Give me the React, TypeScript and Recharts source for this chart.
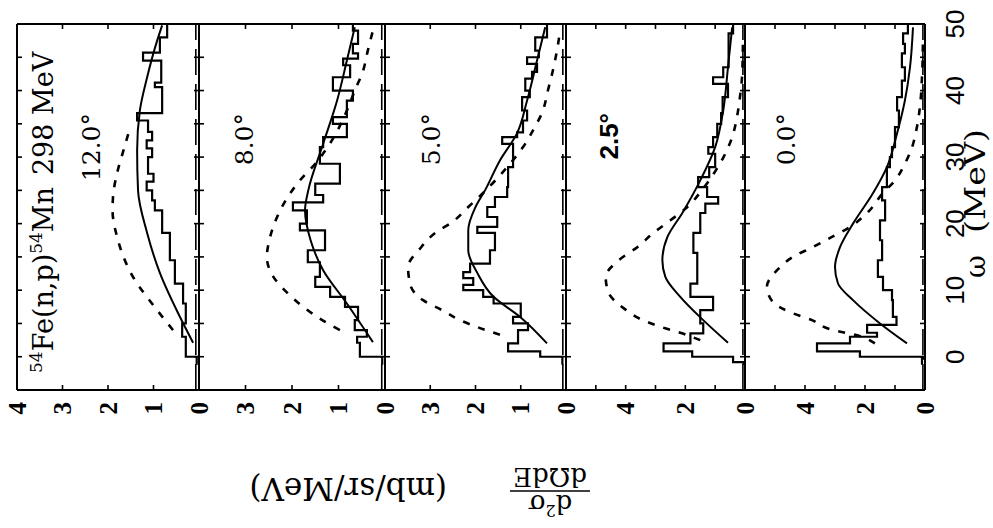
import React from 'react';
import { LineChart, Line, XAxis, YAxis, ReferenceLine } from 'recharts';

// omega axis (MeV)
const OMEGA_TICKS = [0, 5, 10, 15, 20, 25, 30, 35, 40, 45, 50];

// 12.0 deg
const H12_W = [-1.2, 0, 3, 5, 8, 11, 14.5, 18.6, 22, 23.5, 25, 26.3, 27.5, 30, 31.3, 32.5, 33.8, 35.5, 36.6, 40.5, 41.2, 44.5, 45.7, 48, 50];
const H12_V = [0.05, 0.29, 0.37, 0.29, 0.35, 0.53, 0.64, 0.81, 0.97, 1.03, 1.15, 1.0, 1.12, 1.03, 1.15, 1.03, 1.12, 1.36, 0.81, 0.97, 0.83, 1.23, 0.86, 0.7, 0.7];
const S12_W = [2.1, 6, 12.6, 18.6, 25, 31, 37, 42, 47.5, 49.8];
const S12_V = [0.13, 0.42, 0.86, 1.14, 1.34, 1.36, 1.3, 1.14, 0.92, 0.81];
const D12_W = [4, 7, 12, 18, 22, 24, 27.6, 31, 33.6];
const D12_V = [0.57, 0.92, 1.45, 1.8, 1.9, 1.89, 1.8, 1.66, 1.55];

// 8.0 deg
const H8_W = [-1.2, 0, 2.1, 3, 4, 5.5, 7.5, 9, 10.5, 12, 14.2, 16, 19, 20, 22, 23.2, 24.3, 26, 29, 31.5, 33, 35, 36, 38.5, 40, 42, 43.8, 44.8, 45.6, 47, 49, 50];
const H8_V = [0.06, 0.54, 0.6, 0.39, 0.65, 0.58, 0.86, 1.18, 1.5, 1.4, 1.66, 1.29, 1.83, 1.68, 1.98, 1.33, 1.5, 0.97, 1.4, 1.33, 0.82, 1.12, 0.82, 0.69, 1.12, 0.75, 0.9, 0.58, 0.69, 0.58, 0.69, 0.69];
const S8_W = [2.2, 8, 13, 17.5, 22, 25, 32, 38.5, 44.5, 49.5];
const S8_V = [0.26, 0.82, 1.33, 1.6, 1.72, 1.65, 1.33, 1.03, 0.82, 0.65];
const D8_W = [4, 5.5, 7.5, 9.6, 12, 15, 18, 21, 24, 26.5, 29, 33, 36.5, 40, 43, 46, 49];
const D8_V = [0.97, 1.35, 1.76, 2.1, 2.4, 2.54, 2.47, 2.32, 2.09, 1.83, 1.5, 1.1, 0.85, 0.65, 0.47, 0.37, 0.26];

// 5.0 deg
const H5_W = [-1.2, 0, 0.8, 2, 4, 5, 6, 8, 9, 10, 10.8, 11.8, 12.7, 14, 16, 18.6, 19.5, 21, 22.5, 24, 25.5, 28.5, 32, 33, 33.7, 35.5, 37, 39, 40, 41.8, 42.8, 44, 45, 46, 48, 50];
const H5_V = [0.08, 0.57, 1.28, 1.06, 0.84, 1.17, 1.0, 1.6, 1.83, 2.27, 2.05, 2.27, 2.12, 1.68, 1.57, 1.96, 1.52, 1.74, 1.57, 1.3, 1.28, 1.17, 1.41, 1.08, 0.95, 0.86, 0.97, 0.8, 0.9, 0.75, 0.64, 0.86, 0.6, 0.68, 0.42, 0.42];
const S5_W = [2, 6, 9, 12.6, 16, 19, 22.5, 25, 29.5, 33.6, 38.5, 44.5, 49.5];
const S5_V = [0.42, 1.02, 1.6, 1.96, 2.16, 2.16, 2.0, 1.79, 1.46, 1.08, 0.86, 0.64, 0.46];
const D5_W = [3.3, 4.3, 5.5, 7, 8.5, 10.8, 13.5, 16.3, 18.6, 20.2, 22.5, 25.5, 28.5, 31.5, 34, 37, 40, 43, 46, 49];
const D5_V = [1.46, 1.9, 2.34, 2.74, 3.16, 3.44, 3.49, 3.22, 2.89, 2.52, 2.16, 1.7, 1.3, 0.95, 0.73, 0.51, 0.4, 0.29, 0.2, 0.13];

// 2.5 deg
const H25_W = [-1.2, -0.8, 0, 0.8, 2, 3.5, 5, 7, 9, 11, 15.6, 18.6, 21.6, 23, 24, 25.5, 27, 28.5, 30.5, 31.5, 33, 35, 36.6, 39, 41, 42, 43.5, 48.6, 50];
const H25_V = [0.05, 0.4, 1.77, 2.73, 1.83, 1.4, 1.5, 1.07, 1.83, 1.6, 1.73, 1.5, 1.33, 0.9, 1.27, 1.57, 1.2, 1.0, 1.23, 1.07, 0.93, 0.8, 0.75, 0.57, 1.07, 0.73, 0.55, 0.4, 0.4];
const S25_W = [2.1, 5.5, 9, 12, 14.5, 18, 21.6, 26.5, 31.5, 37, 43.5, 49.5];
const S25_V = [0.57, 1.4, 2.17, 2.67, 2.77, 2.6, 2.1, 1.5, 1.0, 0.73, 0.57, 0.43];
const D25_W = [2.5, 3.6, 4.5, 5.5, 7.3, 9.6, 12, 14.5, 16.5, 18.6, 20.5, 22.5, 25, 27.5, 30, 33, 36, 39, 42, 47];
const D25_V = [1.5, 2.17, 2.83, 3.43, 4.07, 4.57, 4.67, 4.23, 3.6, 3.07, 2.5, 1.93, 1.45, 1.05, 0.72, 0.43, 0.27, 0.17, 0.1, 0.07];

// 0.0 deg
const H0_W = [-1.2, -0.3, 0, 0.8, 2, 3, 3.6, 4.8, 6, 8.5, 10, 12, 14.5, 17.5, 20.5, 23.5, 25.5, 28.5, 30, 31.5, 34.5, 37, 39, 41.5, 43.5, 45.6, 47, 48.6, 50];
const H0_V = [0.1, 0, 2.17, 3.6, 2.5, 1.6, 1.93, 0.95, 1.07, 1.1, 1.4, 1.57, 1.43, 1.5, 1.33, 1.43, 1.27, 1.17, 1.1, 1.0, 0.87, 0.93, 0.77, 0.67, 0.77, 0.67, 0.73, 0.57, 0.57];
const S0_W = [2, 5, 8.5, 11, 13.5, 16.5, 20, 24.6, 28.5, 33.6, 38.5, 43.5, 49.5];
const S0_V = [0.6, 1.5, 2.4, 2.9, 3.0, 2.83, 2.4, 1.73, 1.27, 0.93, 0.67, 0.5, 0.4];
const D0_W = [2, 3.3, 4, 5.5, 6.7, 8.2, 10.5, 13, 15, 16.5, 18, 19.5, 21.6, 24.6, 26.5, 29, 31.5, 34.5, 37.5, 42, 47];
const D0_V = [1.67, 2.33, 3.07, 3.77, 4.5, 5.07, 5.27, 4.93, 4.4, 3.73, 3.1, 2.5, 1.93, 1.4, 1.0, 0.67, 0.43, 0.27, 0.17, 0.1, 0.07];

const ZERO_LEVEL = 0.07;
const OMEGA_MIN = -5;
const OMEGA_MAX = 50;

// figure is drawn upright (528 x 993) and turned a quarter turn
const W = 528;
const H = 993;
const PAD = 14; // room so boundary tick labels are not clipped
const TL = 5;   // tick length, ticks point into the frame

const pairs = (w: number[], v: number[]) => w.map((x, i) => ({ w: x, v: v[i] }));

// ticks drawn by hand at the positions the axis hands over (tickSize/tickMargin 0)
const leftTick = (evenOnly: boolean) => (t: any) => {
  const v = t.payload.value;
  const lab = evenOnly && v % 2 !== 0 ? '' : String(v);
  return (
    <g>
      <line x1={t.x} y1={t.y} x2={t.x + TL} y2={t.y} stroke="#000" strokeWidth={1.6} />
      <text x={t.x - 12} y={t.y} dy="0.34em" textAnchor="end" fontSize={25} fontFamily="Liberation Serif" fontWeight="bold" fill="#000">{lab}</text>
    </g>
  );
};
const rightTick = (t: any) => <line x1={t.x} y1={t.y} x2={t.x - TL} y2={t.y} stroke="#000" strokeWidth={1.6} />;
const topTick = (t: any) => <line x1={t.x} y1={t.y} x2={t.x} y2={t.y + TL} stroke="#000" strokeWidth={1.6} />;
const bottomTick = (showLab: boolean) => (t: any) => {
  const v = t.payload.value;
  return (
    <g>
      <line x1={t.x} y1={t.y} x2={t.x} y2={t.y - TL} stroke="#000" strokeWidth={1.6} />
      {showLab && v % 10 === 0 ? (
        <text x={t.x} y={t.y + 39} textAnchor="middle" fontSize={26} fontFamily="Liberation Sans" fill="#000">{v}</text>
      ) : null}
    </g>
  );
};

type PanelProps = {
  top: number; height: number; extra: number; yMax: number; yTicks: number[]; evenOnly?: boolean;
  hw: number[]; hv: number[]; sw: number[]; sv: number[]; dw: number[]; dv: number[];
};

function Panel(p: PanelProps) {
  const showOmega = p.extra > 0;
  const bottomH = showOmega ? p.extra : 1;
  const bottomM = showOmega ? 0 : PAD - 1;
  const chartH = PAD + p.height + bottomH + bottomM;
  return (
    <div style={{ position: 'absolute', left: 0, top: p.top - PAD, width: W, height: chartH }}>
      <LineChart width={W} height={chartH} margin={{ top: PAD - 1, right: 23, bottom: bottomM, left: 0 }}>
        <XAxis xAxisId="b" type="number" dataKey="w" domain={[OMEGA_MIN, OMEGA_MAX]} allowDataOverflow ticks={OMEGA_TICKS} interval={0}
          orientation="bottom" height={bottomH} tickSize={0} tickMargin={0} axisLine={false} tickLine={false}
          tick={bottomTick(showOmega)} />
        <XAxis xAxisId="t" type="number" dataKey="w" domain={[OMEGA_MIN, OMEGA_MAX]} allowDataOverflow ticks={OMEGA_TICKS} interval={0}
          orientation="top" height={1} tickSize={0} tickMargin={0} axisLine={false} tickLine={false} tick={topTick} />
        <YAxis yAxisId="l" type="number" domain={[0, p.yMax]} allowDataOverflow ticks={p.yTicks} interval={0}
          width={138} tickSize={0} tickMargin={0} axisLine={false} tickLine={false} tick={leftTick(!!p.evenOnly)} />
        <YAxis yAxisId="r" orientation="right" type="number" domain={[0, p.yMax]} allowDataOverflow ticks={p.yTicks} interval={0}
          width={1} tickSize={0} tickMargin={0} axisLine={false} tickLine={false} tick={rightTick} />
        {/* frame */}
        <ReferenceLine xAxisId="b" yAxisId="l" x={OMEGA_MIN} stroke="#000" strokeWidth={2} />
        <ReferenceLine xAxisId="b" yAxisId="l" x={OMEGA_MAX} stroke="#000" strokeWidth={2} />
        <ReferenceLine xAxisId="b" yAxisId="l" y={0} stroke="#000" strokeWidth={2} />
        <ReferenceLine xAxisId="b" yAxisId="l" y={p.yMax} stroke="#000" strokeWidth={2} />
        <ReferenceLine xAxisId="b" yAxisId="l" y={ZERO_LEVEL} stroke="#000" strokeWidth={1.6} strokeDasharray="26 9" />
        <Line xAxisId="b" yAxisId="l" data={pairs(p.hw, p.hv)} dataKey="v" type="stepAfter" stroke="#000" strokeWidth={2.2}
          dot={false} isAnimationActive={false} />
        <Line xAxisId="b" yAxisId="l" data={pairs(p.sw, p.sv)} dataKey="v" type="monotone" stroke="#000" strokeWidth={2}
          dot={false} isAnimationActive={false} />
        <Line xAxisId="t" yAxisId="r" data={pairs(p.dw, p.dv)} dataKey="v" type="monotone" stroke="#000" strokeWidth={2.6}
          strokeDasharray="7 9" dot={false} isAnimationActive={false} />
      </LineChart>
    </div>
  );
}

const SERIF = 'DejaVu Serif';

export default function App() {
  return (
    <div style={{ position: 'absolute', left: 0, top: 0, width: 993, height: 528, overflow: 'hidden', background: '#fff' }}>
      <div style={{ position: 'absolute', left: 0, top: 0, width: W, height: H, transformOrigin: '0 0', transform: 'translate(0px, 528px) rotate(-90deg)' }}>
        <Panel top={17} height={182} extra={0} yMax={4} yTicks={[0, 1, 2, 3, 4]} hw={H12_W} hv={H12_V} sw={S12_W} sv={S12_V} dw={D12_W} dv={D12_V} />
        <Panel top={199} height={186} extra={0} yMax={4} yTicks={[0, 1, 2, 3]} hw={H8_W} hv={H8_V} sw={S8_W} sv={S8_V} dw={D8_W} dv={D8_V} />
        <Panel top={385} height={181} extra={0} yMax={4} yTicks={[0, 1, 2, 3]} hw={H5_W} hv={H5_V} sw={S5_W} sv={S5_V} dw={D5_W} dv={D5_V} />
        <Panel top={566} height={179} extra={0} yMax={6} yTicks={[0, 1, 2, 3, 4, 5]} evenOnly hw={H25_W} hv={H25_V} sw={S25_W} sv={S25_V} dw={D25_W} dv={D25_V} />
        <Panel top={745} height={180} extra={68} yMax={6} yTicks={[0, 1, 2, 3, 4, 5]} evenOnly hw={H0_W} hv={H0_V} sw={S0_W} sv={S0_V} dw={D0_W} dv={D0_V} />
        <svg width={W} height={H} style={{ position: 'absolute', left: 0, top: 0, pointerEvents: 'none' }}>
          <text x={155} y={53} fontFamily={SERIF} fontSize={27} fill="#000">
            <tspan fontSize={17} dy={-11}>54</tspan>
            <tspan dy={11}>Fe(n,p)</tspan>
            <tspan fontSize={17} dy={-11}>54</tspan>
            <tspan dy={11}>Mn</tspan>
            <tspan dx={12}>298 MeV</tspan>
          </text>
          <text x={415} y={100} textAnchor="end" fontFamily={SERIF} fontSize={25} fill="#000">12.0°</text>
          <text x={415} y={253} textAnchor="end" fontFamily={SERIF} fontSize={25} fill="#000">8.0°</text>
          <text x={415} y={440} textAnchor="end" fontFamily={SERIF} fontSize={25} fill="#000">5.0°</text>
          <text x={415} y={618} textAnchor="end" fontFamily="Liberation Sans" fontWeight="bold" fontSize={26} fill="#000">2.5°</text>
          <text x={415} y={795} textAnchor="end" fontFamily={SERIF} fontSize={25} fill="#000">0.0°</text>
          <text x={250} y={985} fontFamily={SERIF} fontSize={28} fill="#000">ω</text>
          <text x={295} y={985} fontFamily={SERIF} fontSize={28} fill="#000" textLength={104} lengthAdjust="spacingAndGlyphs">(MeV)</text>
          <g transform="translate(50, 592) rotate(-90)">
            <text x={42} y={-17} textAnchor="middle" fontFamily={SERIF} fontSize={26} fill="#000">
              d<tspan fontSize={16} dy={-10}>2</tspan><tspan dy={10}>σ</tspan>
            </text>
            <line x1={2} y1={-13} x2={82} y2={-13} stroke="#000" strokeWidth={1.6} />
            <text x={42} y={10} textAnchor="middle" fontFamily={SERIF} fontSize={26} fill="#000">dΩdE</text>
            <text x={145} y={0} fontFamily={SERIF} fontSize={31} fill="#000">(mb/sr/MeV)</text>
          </g>
        </svg>
      </div>
    </div>
  );
}
